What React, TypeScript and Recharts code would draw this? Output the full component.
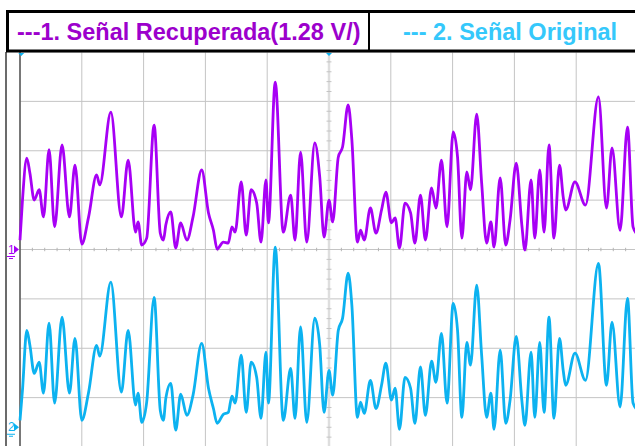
import React from "react";
import {
  LineChart,
  Line,
  XAxis,
  YAxis,
  CartesianGrid,
  ReferenceLine,
  ReferenceDot,
} from "recharts";

// time in divisions (10 div across the screen)
const time = [
  0, 0.04, 0.11, 0.16, 0.23, 0.31, 0.38, 0.47, 0.56, 0.68,
  0.8, 0.89, 1.0, 1.11, 1.24, 1.29, 1.47, 1.64, 1.75, 1.87,
  1.91, 1.97, 2.05, 2.17, 2.27, 2.32, 2.36, 2.44, 2.52, 2.6,
  2.7, 2.8, 2.94, 3.05, 3.13, 3.19, 3.29, 3.37, 3.43, 3.48,
  3.58, 3.66, 3.74, 3.83, 3.9, 3.98, 4.02, 4.13, 4.26, 4.38,
  4.45, 4.54, 4.64, 4.77, 4.85, 4.92, 5.0, 5.06, 5.15, 5.22,
  5.31, 5.37, 5.46, 5.51, 5.57, 5.67, 5.76, 5.85, 5.92, 6.01,
  6.07, 6.14, 6.23, 6.32, 6.39, 6.48, 6.56, 6.66, 6.73, 6.82,
  6.91, 7.01, 7.08, 7.15, 7.23, 7.29, 7.39, 7.47, 7.55, 7.62,
  7.67, 7.77, 7.86, 7.93, 8.03, 8.12, 8.17, 8.27, 8.33, 8.41,
  8.48, 8.56, 8.64, 8.73, 8.79, 8.83, 8.98, 9.15, 9.36, 9.49,
  9.58, 9.71, 9.83, 9.92, 10.0,
];

// canal 1, señal recuperada (div sobre su marca de tierra)
const recuperada = [
  0.19, 1.0, 1.85, 1.55, 1.0, 1.21, 0.66, 2.02, 0.46, 2.12,
  0.66, 1.71, 0.11, 0.66, 1.51, 1.31, 2.78, 0.66, 1.81, 0.35,
  0.56, 0.09, 0.23, 2.52, 0.33, 0.19, 0.5, 0.76, 0.03, 0.54,
  0.19, 0.66, 1.61, 0.74, 0.39, 0.01, 0.15, 0.13, 0.46, 0.35,
  1.37, 0.29, 1.21, 0.94, 0.15, 1.41, 0.54, 3.39, 0.35, 1.1,
  0.19, 1.97, 0.15, 2.16, 1.47, 0.25, 1.0, 0.56, 1.87, 2.08,
  2.93, 2.22, 0.15, 0.39, 0.19, 0.84, 0.33, 0.8, 1.16, 0.54,
  0.64, 0.03, 0.94, 0.74, 0.13, 1.1, 0.19, 1.25, 0.84, 1.81,
  0.46, 2.38, 1.87, 0.23, 1.57, 1.21, 2.74, 1.35, 0.13, 0.56,
  0.05, 1.45, 0.09, 0.6, 1.75, 0.5, -0.01, 1.41, 0.23, 1.61,
  0.35, 2.12, 0.23, 1.71, 1.06, 0.8, 1.37, 0.9, 3.09, 0.84,
  2.06, 0.39, 2.48, 0.46, 0.29,
];

// canal 2, señal original (div sobre su marca de tierra)
const original = [
  0.14, 0.75, 1.96, 1.66, 1.09, 1.32, 0.69, 2.11, 0.49, 2.23,
  0.69, 1.8, 0.14, 0.71, 1.66, 1.44, 2.94, 0.71, 1.96, 0.45,
  0.69, 0.1, 0.51, 2.63, 0.34, 0.14, 0.59, 0.89, -0.06, 0.67,
  0.24, 0.65, 1.7, 0.79, 0.38, 0.08, 0.26, 0.3, 0.63, 0.49,
  1.46, 0.3, 1.32, 1.01, 0.18, 1.52, 0.49, 3.65, 0.14, 1.19,
  0.18, 2.03, 0.1, 2.21, 1.66, 0.3, 1.15, 0.65, 1.96, 2.21,
  3.12, 2.47, 0.2, 0.51, 0.28, 0.95, 0.38, 0.85, 1.3, 0.55,
  0.79, -0.04, 1.01, 0.79, 0.08, 1.22, 0.24, 1.34, 0.91, 1.9,
  0.49, 2.51, 1.96, 0.2, 1.72, 1.26, 2.88, 1.46, 0.2, 0.69,
  -0.04, 1.56, 0.08, 0.55, 1.84, 0.55, 0.04, 1.52, 0.2, 1.72,
  0.3, 2.23, 0.18, 1.8, 1.15, 0.85, 1.5, 0.95, 3.32, 0.85,
  2.13, 0.41, 2.61, 0.49, 0.34,
];

const xTicks = [0, 1, 2, 3, 4, 5, 6, 7, 8, 9, 10];
const yTicks = [-4, -3, -2, -1, 0, 1, 2, 3, 4];

const PURPLE = "#a700f5";
const CYAN = "#0cb2f0";

const data = time.map((t, i) => ({
  t,
  ch1: recuperada[i],
  ch2: original[i],
}));

// small marks on the centre lines, 5 per division
const minorX = Array.from({ length: 51 }, (_, i) => i * 0.2).filter(
  (v) => Math.abs(v - Math.round(v)) > 0.01
);
const minorY = Array.from({ length: 41 }, (_, i) => -4 + i * 0.2).filter(
  (v) => Math.abs(v - Math.round(v)) > 0.01
);

const ChannelMark = ({ cx, cy, label, color }: any) => (
  <g>
    <text
      x={cx - 12}
      y={cy + 4}
      fill={color}
      fontSize={12}
      fontFamily="Liberation Sans, Arial, sans-serif"
    >
      {label}
    </text>
    <path
      d={`M${cx - 6},${cy - 4} L${cx - 1},${cy} L${cx - 6},${cy + 4} Z`}
      fill={color}
    />
    <path
      d={`M${cx - 13},${cy + 7} H${cx - 5} M${cx - 11},${cy + 9} H${cx - 7}`}
      stroke={color}
      strokeWidth={1}
    />
  </g>
);

// trigger marks at the top edge
const TopMark = ({ cx, cy }: any) => (
  <path
    d={`M${cx - 3},${cy + 1} L${cx + 3},${cy + 1} L${cx},${cy + 4} Z`}
    fill={CYAN}
  />
);

const Header = () => (
  <svg
    width={635}
    height={56}
    style={{ position: "absolute", left: 0, top: 0 }}
  >
    <rect x={0} y={0} width={635} height={52} fill="#fff" />
    <rect
      x={7.5}
      y={11.5}
      width={640}
      height={39.5}
      fill="#fff"
      stroke="#000"
      strokeWidth={3}
    />
    <line x1={369} y1={12} x2={369} y2={51} stroke="#000" strokeWidth={2} />
    <text
      x={17}
      y={39.5}
      fill="#9c00cc"
      fontSize={23.5}
      fontWeight="bold"
      fontFamily="Liberation Sans, Arial, sans-serif"
    >
      ---1. Señal Recuperada(1.28 V/)
    </text>
    <text
      x={403}
      y={39.5}
      fill="#35c8fb"
      fontSize={23.5}
      fontWeight="bold"
      fontFamily="Liberation Sans, Arial, sans-serif"
    >
      --- 2. Señal Original
    </text>
  </svg>
);

export default function App() {
  return (
    <div
      style={{
        position: "absolute",
        left: 0,
        top: 0,
        width: 635,
        height: 446,
        overflow: "hidden",
        background: "#fff",
      }}
    >
      <div
        style={{
          position: "absolute",
          left: 5,
          top: 52,
          width: 2,
          height: 400,
          background: "#6b6b6b",
        }}
      />
      <div style={{ position: "absolute", left: 0, top: 0 }}>
        <LineChart
          width={640}
          height={447}
          data={data}
          margin={{ top: 52, right: 2, bottom: 0, left: 20 }}
        >
          <CartesianGrid stroke="#c4c4c4" strokeWidth={1} />
          <XAxis
            dataKey="t"
            type="number"
            domain={[0, 10]}
            ticks={xTicks}
            hide
          />
          <YAxis type="number" domain={[-4, 4]} ticks={yTicks} hide />
          <YAxis
            yAxisId="ch2"
            type="number"
            domain={[-0.4, 7.6]}
            hide
          />
          <ReferenceLine x={5} stroke="#dedede" strokeWidth={2.5} />
          <ReferenceLine y={0} stroke="#c4c4c4" strokeWidth={1} />
          {minorX.map((v) => (
            <ReferenceLine
              key={`mx${v}`}
              segment={[
                { x: v, y: -0.035 },
                { x: v, y: 0.035 },
              ]}
              stroke="#b4b4b4"
            />
          ))}
          {minorY.map((v) => (
            <ReferenceLine
              key={`my${v}`}
              segment={[
                { x: 4.96, y: v },
                { x: 5.04, y: v },
              ]}
              stroke="#c4c4c4"
            />
          ))}
          <ReferenceLine x={0} stroke="#555" strokeWidth={1.5} />
          <Line
            type="monotone"
            dataKey="ch1"
            stroke={PURPLE}
            strokeWidth={2.8}
            dot={false}
            isAnimationActive={false}
          />
          <Line
            yAxisId="ch2"
            type="monotone"
            dataKey="ch2"
            stroke={CYAN}
            strokeWidth={2.8}
            dot={false}
            isAnimationActive={false}
          />
          <ReferenceDot
            x={0}
            y={0}
            r={0}
            ifOverflow="visible"
            shape={(p: any) => (
              <ChannelMark cx={p.cx} cy={p.cy} label="1" color={PURPLE} />
            )}
          />
          <ReferenceDot
            yAxisId="ch2"
            x={0}
            y={0}
            r={0}
            ifOverflow="visible"
            shape={(p: any) => (
              <ChannelMark cx={p.cx} cy={p.cy} label="2" color={CYAN} />
            )}
          />
          <ReferenceDot
            x={0.02}
            y={4}
            r={0}
            ifOverflow="visible"
            shape={(p: any) => <TopMark cx={p.cx} cy={p.cy} />}
          />
          <ReferenceDot
            x={5}
            y={4}
            r={0}
            ifOverflow="visible"
            shape={(p: any) => <TopMark cx={p.cx} cy={p.cy} />}
          />
        </LineChart>
      </div>
      <Header />
    </div>
  );
}
